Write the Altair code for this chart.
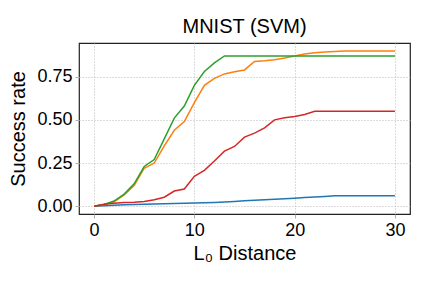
import altair as alt
import pandas as pd

x_vals = list(range(31))

blue = [0, 0.003, 0.006, 0.008, 0.010, 0.012, 0.013, 0.014, 0.016, 0.017,
        0.019, 0.020, 0.022, 0.025, 0.028, 0.031, 0.034, 0.037, 0.040, 0.043,
        0.046, 0.050, 0.054, 0.057, 0.060, 0.060, 0.060, 0.060, 0.060, 0.060, 0.060]
orange = [0, 0.010, 0.025, 0.065, 0.12, 0.22, 0.25, 0.35, 0.44, 0.49,
          0.60, 0.70, 0.74, 0.766, 0.779, 0.789, 0.838, 0.842, 0.848, 0.858,
          0.870, 0.881, 0.889, 0.893, 0.896, 0.898, 0.898, 0.898, 0.898, 0.898, 0.898]
green = [0, 0.010, 0.030, 0.07, 0.13, 0.23, 0.27, 0.39, 0.51, 0.58,
         0.70, 0.78, 0.83, 0.87, 0.87, 0.87, 0.87, 0.87, 0.87, 0.87,
         0.87, 0.87, 0.87, 0.87, 0.87, 0.87, 0.87, 0.87, 0.87, 0.87, 0.87]
red = [0, 0.012, 0.017, 0.021, 0.023, 0.027, 0.037, 0.052, 0.088, 0.10,
       0.173, 0.208, 0.262, 0.319, 0.346, 0.40, 0.423, 0.454, 0.50, 0.512,
       0.519, 0.531, 0.55, 0.55, 0.55, 0.55, 0.55, 0.55, 0.55, 0.55, 0.55]

series_names = ["s0", "s1", "s2", "s3"]
series_colors = ["#1f77b4", "#ff7f0e", "#2ca02c", "#d62728"]

rows = []
for name, vals in zip(series_names, [blue, orange, green, red]):
    for xv, yv in zip(x_vals, vals):
        rows.append({"x": xv, "y": yv, "series": name})
df = pd.DataFrame(rows)

FONT = "Liberation Sans"

chart = alt.Chart(df).mark_line(strokeWidth=1.5).encode(
    x=alt.X("x:Q",
            scale=alt.Scale(domain=[-1.5, 31.5], nice=False, zero=False),
            axis=alt.Axis(values=[0, 10, 20, 30], title="L₀ Distance",
                          format="d")),
    y=alt.Y("y:Q",
            scale=alt.Scale(domain=[-0.045, 0.945], nice=False, zero=False),
            axis=alt.Axis(values=[0, 0.25, 0.5, 0.75], format=".2f",
                          title="Success rate")),
    color=alt.Color("series:N",
                    scale=alt.Scale(domain=series_names, range=series_colors),
                    legend=None),
    order=alt.Order("series:N"),
).properties(
    width=331,
    height=171,
    title=alt.TitleParams("MNIST (SVM)", font=FONT, fontSize=20,
                          fontWeight="normal", color="black", offset=6),
    padding={"left": 71, "top": 35, "right": 14, "bottom": 66},
    autosize=alt.AutoSizeParams(type="none"),
).configure_view(
    stroke="#222222", strokeWidth=1.2
).configure_axis(
    labelFont=FONT, labelFontSize=18, labelColor="black",
    titleFont=FONT, titleFontSize=20, titleFontWeight="normal", titleColor="black",
    grid=True, gridColor="#b0b0b0", gridDash=[1, 2], gridWidth=0.9,
    domain=False, ticks=True, tickColor="#b0b0b0", tickSize=4, tickWidth=1,
    labelPadding=3,
).configure_axisY(
    titlePadding=8
).configure_axisX(
    titlePadding=4
)

chart.save("out.html", embed_options={"renderer": "svg", "actions": False})
